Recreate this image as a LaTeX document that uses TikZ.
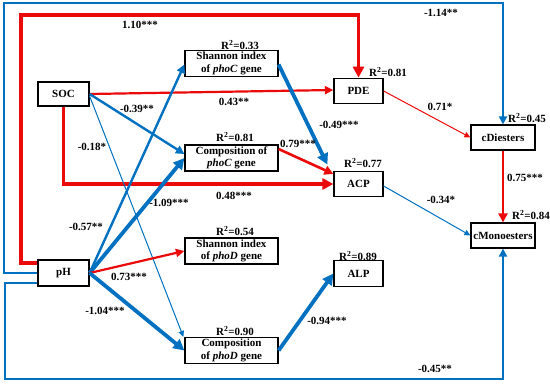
\documentclass[tikz,border=0pt]{standalone}
\usepackage{fontspec}
\setmainfont{Liberation Serif}
\usetikzlibrary{arrows.meta,calc}
\definecolor{pred}{RGB}{235,10,10}
\definecolor{pblue}{RGB}{0,112,192}
\begin{document}
\begin{tikzpicture}[x=1pt,y=-1pt,
  every node/.style={font=\fontsize{11}{12.4}\selectfont\bfseries},
  box/.style={draw=black,line width=1.2pt,fill=white,inner sep=0pt,align=center,minimum height=25pt},
  gbox/.style={box,minimum width=93pt,minimum height=26pt},
  ebox/.style={box,minimum width=49pt,minimum height=25.5pt},
  lab/.style={inner sep=0pt},
  redthick/.style={draw=pred,line width=3.6pt,-{Triangle[length=11pt,width=11pt]}},
  redmed/.style={draw=pred,line width=2.2pt,-{Triangle[length=8.5pt,width=8pt]}},
  redmedb/.style={draw=pred,line width=2.6pt,-{Triangle[length=9pt,width=9pt]}},
  redthin/.style={draw=pred,line width=1pt,-{Triangle[length=6pt,width=5.5pt]}},
  bluethick/.style={draw=pblue,line width=3.8pt,-{Triangle[length=11pt,width=11pt]}},
  bluemed/.style={draw=pblue,line width=2.4pt,-{Triangle[length=8.5pt,width=8.5pt]}},
  blueframe/.style={draw=pblue,line width=2pt,-{Triangle[length=8pt,width=8pt]}},
  bluethin/.style={draw=pblue,line width=1pt,-{Triangle[length=6pt,width=5.5pt]}}
]
\useasboundingbox (0,0) rectangle (550,385);

% boxes
\node[box,minimum width=51pt,minimum height=24pt] (SOC) at (63.5,94) {SOC};
\node[box,minimum width=51pt,minimum height=26pt] (pH) at (63.5,273) {pH};
\node[gbox] (shanC) at (231.5,63.5) {Shannon index\\of \textit{phoC} gene};
\node[gbox] (compC) at (231.5,158) {Composition of\\\textit{phoC} gene};
\node[gbox] (shanD) at (231.5,251) {Shannon index\\of \textit{phoD} gene};
\node[gbox] (compD) at (231.5,350.5) {Composition\\of \textit{phoD} gene};
\node[ebox] (PDE) at (358.5,91) {PDE};
\node[ebox] (ACP) at (358.5,184) {ACP};
\node[ebox] (ALP) at (358.5,273.5) {ALP};
\node[box,minimum width=64pt] (cD) at (503,137.5) {cDiesters};
\node[box,minimum width=64pt] (cM) at (503,235.5) {cMonoesters};

% frame corners
\coordinate (redTop) at (21,15);
\coordinate (blueTop) at (4,3);
\coordinate (blueBot) at (5,379);

% frame paths
\draw[redthick] ([yshift=10pt]pH.west) -| (redTop) -| (PDE.north);
\draw[blueframe] (pH.west) -| (blueTop) -| (cD.north);
\draw[blueframe] ([yshift=-10pt]pH.west) -| (blueBot) -| (cM.south);
\draw[redthick] (SOC.south) |- (ACP.west);

% SOC paths
\draw[redmed] (SOC.east) -- ([yshift=1pt]PDE.west);
\draw[bluemed] (SOC.east) -- ([yshift=4pt]compC.west);
\draw[bluethin] ([yshift=-2pt]SOC.east) -- ([xshift=-1pt]compD.north west);

% pH paths
\draw[bluemed] (pH.east) -- ([yshift=-1pt]shanC.west);
\draw[bluethick] (pH.east) -- (compC.west);
\draw[redmed] (pH.east) -- (shanD.west);
\draw[bluethick] (pH.east) -- (compD.west);

% gene -> enzyme
\draw[bluethick] ([yshift=-1pt]shanC.east) -- ([shift={(-6pt,6pt)}]ACP.north west);
\draw[redmedb] ([yshift=9pt]compC.east) -- ([yshift=10pt]ACP.west);
\draw[bluethick] (compD.east) -- (ALP.west);

% enzyme -> P forms
\draw[redthin] (PDE.east) -- (cD.west);
\draw[bluethin] ([yshift=-2pt]ACP.east) -- (cM.west);
\draw[redmedb] (cD.south) -- (cM.north);

% R2 labels
\node[lab] (r1) at (240,45) {R\textsuperscript{2}=0.33};
\node[lab] (r2) at (388,72) {R\textsuperscript{2}=0.81};
\node[lab] (r3) at (527,118) {R\textsuperscript{2}=0.45};
\node[lab] (r4) at (235,137) {R\textsuperscript{2}=0.81};
\node[lab] (r5) at (363,163) {R\textsuperscript{2}=0.77};
\node[lab] (r6) at (235,231) {R\textsuperscript{2}=0.54};
\node[lab] (r7) at (531,215) {R\textsuperscript{2}=0.84};
\node[lab] (r8) at (358,256) {R\textsuperscript{2}=0.89};
\node[lab] (r9) at (235,331) {R\textsuperscript{2}=0.90};

% coefficient labels
\node[lab] (l1) at (140,25) {1.10***};
\node[lab] (l2) at (441,13) {-1.14**};
\node[lab] (l3) at (234,102) {0.43**};
\node[lab] (l4) at (137,109) {-0.39**};
\node[lab] (l5) at (92,147) {-0.18*};
\node[lab] (l6) at (234,196) {0.48***};
\node[lab] (l7) at (169,203) {-1.09***};
\node[lab] (l8) at (86,227) {-0.57**};
\node[lab] (l9) at (129,277) {0.73***};
\node[lab] (l10) at (105,311) {-1.04***};
\node[lab] (l11) at (327,321) {-0.94***};
\node[lab] (l12) at (435,369) {-0.45**};
\node[lab] (l13) at (339,125) {-0.49***};
\node[lab] (l14) at (298,144) {0.79***};
\node[lab] (l15) at (440,107) {0.71*};
\node[lab] (l16) at (441,200) {-0.34*};
\node[lab] (l17) at (525,178) {0.75***};
\end{tikzpicture}
\end{document}
